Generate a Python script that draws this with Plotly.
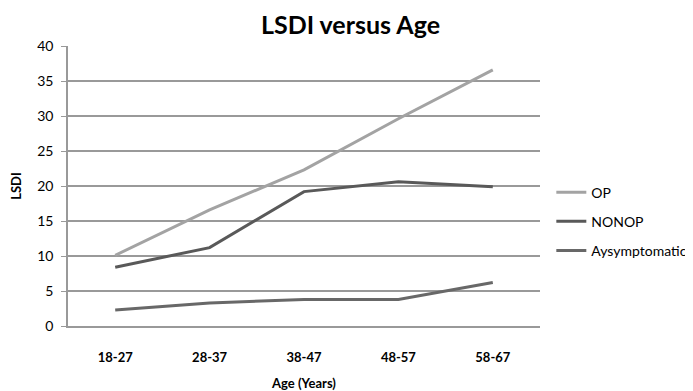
import plotly.graph_objects as go

categories = ["18-27", "28-37", "38-47", "48-57", "58-67"]
op = [10.1, 16.6, 22.3, 29.6, 36.6]
nonop = [8.4, 11.2, 19.2, 20.6, 19.9]
asymp = [2.3, 3.3, 3.8, 3.8, 6.2]
y_ticks = [0, 5, 10, 15, 20, 25, 30, 35, 40]

FONT = "Lato, 'Open Sans', sans-serif"

fig = go.Figure()
series = [("OP", op, "#a3a3a3"), ("NONOP", nonop, "#595959"), ("Aysymptomatic", asymp, "#686868")]
for name, vals, col in series:
    fig.add_trace(go.Scatter(x=categories, y=vals, name=name, mode="lines",
                             legendgroup=name,
                             line=dict(color=col, width=3)))

fig.update_layout(
    width=685, height=383,
    margin=dict(l=60, r=153, t=38, b=65, autoexpand=False),
    paper_bgcolor="white", plot_bgcolor="white",
    font=dict(family=FONT, color="#000"),
    title=dict(text="<b>LSDI versus Age</b>", x=0.5, xanchor="center", y=0.955, yanchor="middle",
               font=dict(size=25, family=FONT, color="#000")),
    legend=dict(x=1.024, y=0.373, xanchor="left", yanchor="middle",
                traceorder="grouped", tracegroupgap=8,
                font=dict(size=14, family=FONT, color="#000"), itemwidth=30,
                bgcolor="rgba(0,0,0,0)"),
    showlegend=True,
)
fig.update_xaxes(
    type="category", range=[-0.5, 4.5], automargin=False,
    showline=True, linecolor="#999", linewidth=1.5,
    showgrid=False, ticks="", tickfont=dict(size=13, family=FONT, color="#000"),
    ticklabelstandoff=19,
    tickvals=categories, ticktext=["<b>%s</b>" % c for c in categories],
    title=dict(text="<b>Age (Years)</b>", font=dict(size=13, family=FONT, color="#000"), standoff=18),
)
fig.update_yaxes(
    range=[0, 40], tickvals=y_ticks, automargin=False,
    showline=True, linecolor="#999", linewidth=1.5,
    showgrid=True, gridcolor="#999", gridwidth=1.5,
    ticks="outside", ticklen=5, tickcolor="#999",
    ticklabelstandoff=5,
    tickfont=dict(size=14, family=FONT, color="#000"),
    zeroline=False,
    title=dict(text="<b>LSDI</b>", font=dict(size=13, family=FONT, color="#000"), standoff=14),
)

fig.write_html("out.html")
